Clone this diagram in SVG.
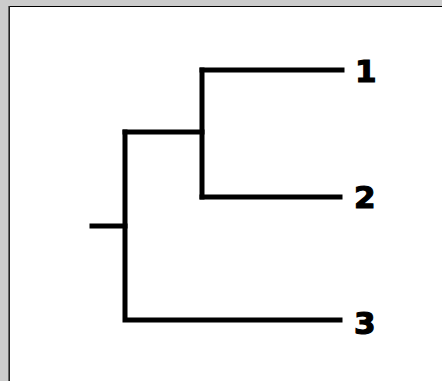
<svg xmlns="http://www.w3.org/2000/svg" width="442" height="381" viewBox="0 0 442 381">
<style>
.br{fill:none;stroke:#000;stroke-width:5;stroke-linecap:square;stroke-linejoin:miter}
.lb{font-family:"DejaVu Sans","Liberation Sans",sans-serif;font-weight:bold;font-size:31px;fill:#000;stroke:#000;stroke-width:1.2}
</style>
<rect x="0" y="0" width="442" height="381" fill="#cccccc"/>
<rect x="10" y="7" width="432" height="374" fill="#ffffff"/>
<line x1="8.5" y1="6" x2="8.5" y2="381" stroke="#666" stroke-width="1"/>
<line x1="9.5" y1="6.5" x2="442" y2="6.5" stroke="#000" stroke-width="1"/>
<line x1="9.5" y1="6" x2="9.5" y2="381" stroke="#222" stroke-width="1"/>
<g id="connectors">
<path class="br" d="M92 226 H125"/>
<path class="br" d="M125 132 V320 H340"/>
<path class="br" d="M125 132 H202"/>
<path class="br" d="M202 70 V197"/>
<path class="br" d="M202 70 H342"/>
<path class="br" d="M202 197 H340"/>
</g>
<g id="leaf1"><text class="lb" x="355" y="82">1</text></g>
<g id="leaf2"><text class="lb" x="354" y="208">2</text></g>
<g id="leaf3"><text class="lb" x="354" y="334">3</text></g>
</svg>
